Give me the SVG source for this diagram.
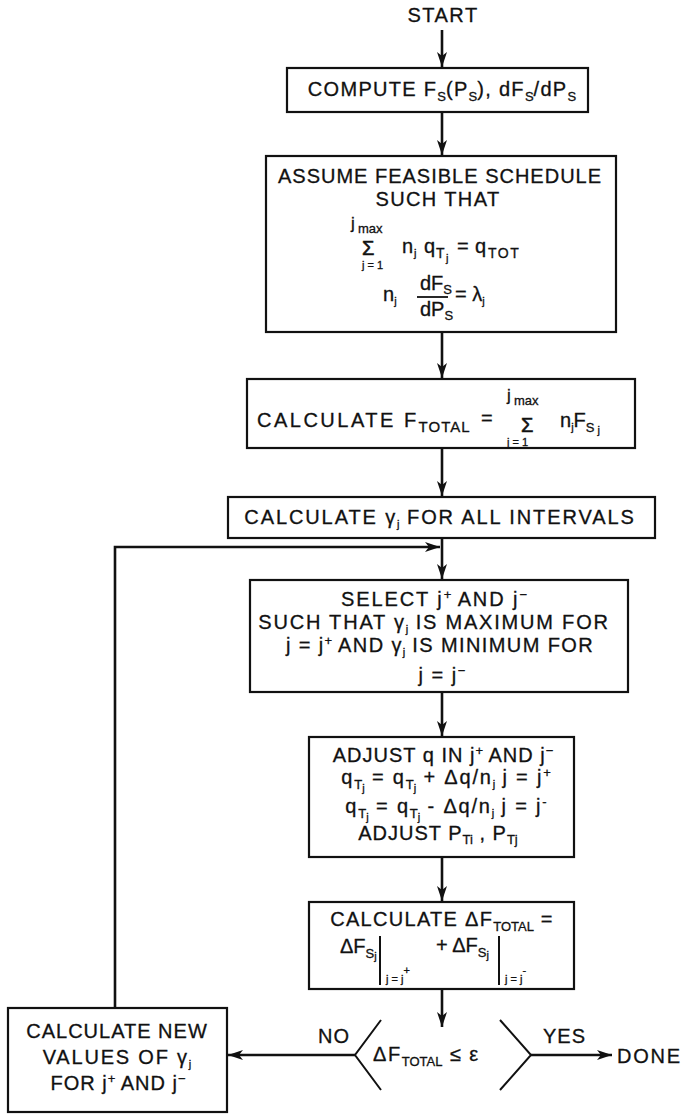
<svg xmlns="http://www.w3.org/2000/svg" width="687" height="1114" viewBox="0 0 687 1114">
<defs>
<style>
.t{font-family:"Liberation Sans",Arial,sans-serif;font-size:20px;fill:#111;stroke:#111;stroke-width:0.3;letter-spacing:1px}
.m{text-anchor:middle}
.f{letter-spacing:0}
.s{font-size:13px;letter-spacing:0}
.ss{font-size:11px;letter-spacing:0}
.sig{font-size:20px;letter-spacing:0;stroke-width:0.6}
.box{fill:#fff;stroke:#111;stroke-width:2.2}
.ln{fill:none;stroke:#111;stroke-width:2.6}
.bar{stroke:#111;stroke-width:2}
</style>
<marker id="ah" markerUnits="userSpaceOnUse" markerWidth="16" markerHeight="10" refX="15" refY="5" orient="auto">
<path d="M0,0 L15,5 L0,10 L4,5 Z" fill="#111"/>
</marker>
</defs>
<rect width="687" height="1114" fill="#fff"/>

<g id="connectors">
<line class="ln" x1="442" y1="30" x2="442" y2="67" marker-end="url(#ah)"/>
<line class="ln" x1="442" y1="112" x2="442" y2="155" marker-end="url(#ah)"/>
<line class="ln" x1="442" y1="332" x2="442" y2="378" marker-end="url(#ah)"/>
<line class="ln" x1="442" y1="448" x2="442" y2="496" marker-end="url(#ah)"/>
<line class="ln" x1="442" y1="538" x2="442" y2="579" marker-end="url(#ah)"/>
<path class="ln" d="M115,1008 V547 H440" marker-end="url(#ah)"/>
<line class="ln" x1="442" y1="692" x2="442" y2="736" marker-end="url(#ah)"/>
<line class="ln" x1="442" y1="857" x2="442" y2="901" marker-end="url(#ah)"/>
<line class="ln" x1="442" y1="989" x2="442" y2="1027" marker-end="url(#ah)"/>
<line class="ln" x1="355" y1="1055" x2="228" y2="1055" marker-end="url(#ah)"/>
<line class="ln" x1="531" y1="1055" x2="612" y2="1055" marker-end="url(#ah)"/>
<text class="t" x="318" y="1043">NO</text>
<text class="t" x="543" y="1043">YES</text>
</g>

<g id="start"><text class="t m" x="443" y="22" style="letter-spacing:1.5px">START</text></g>
<g id="done"><text class="t" x="617" y="1063" style="letter-spacing:1.8px">DONE</text></g>

<g id="compute">
<rect class="box" x="287" y="68" width="301" height="44"/>
<text class="t m" x="442" y="96" style="letter-spacing:1.3px">COMPUTE F<tspan class="s" dy="5">S</tspan><tspan dy="-5">(P</tspan><tspan class="s" dy="5">S</tspan><tspan dy="-5">), dF</tspan><tspan class="s" dy="5">S</tspan><tspan dy="-5">/dP</tspan><tspan class="s" dy="5">S</tspan></text>
</g>

<g id="assume">
<rect class="box" x="266" y="156" width="350" height="176"/>
<text class="t m" x="440" y="183">ASSUME FEASIBLE SCHEDULE</text>
<text class="t m" x="438" y="206" style="letter-spacing:1.4px">SUCH THAT</text>
<text class="t f" x="351" y="229" style="font-size:17px">j</text>
<text class="t s" x="358" y="233">max</text>
<text class="t sig" x="362" y="255">Σ</text>
<text class="t ss" x="362" y="269">j = 1</text>
<text class="t f" x="402" y="253">n</text>
<text class="t ss" x="414" y="257">j</text>
<text class="t f" x="424" y="253">q</text>
<text class="t s" x="436" y="258" style="font-size:14px">T</text>
<text class="t ss" x="446" y="262">j</text>
<text class="t f" x="457" y="253">=</text>
<text class="t f" x="475" y="253">q</text>
<text class="t s" x="488" y="258" style="font-size:14px;letter-spacing:1.5px">TOT</text>
<text class="t f" x="383" y="301">n<tspan class="ss" dy="4">j</tspan></text>
<text class="t f" x="420" y="290">dF<tspan class="s" dy="4">S</tspan></text>
<line x1="417" y1="297" x2="448" y2="297" stroke="#111" stroke-width="1.8"/>
<text class="t f" x="420" y="316">dP<tspan class="s" dy="4">S</tspan></text>
<text class="t f" x="455" y="301">= λ<tspan class="ss" dy="4">j</tspan></text>
</g>

<g id="ftotal">
<rect class="box" x="247" y="379" width="388" height="69"/>
<text class="t" x="257" y="427" style="letter-spacing:2.5px">CALCULATE F<tspan class="s" dy="5" style="font-size:15px;letter-spacing:1px">TOTAL</tspan></text>
<text class="t" x="481" y="425">=</text>
<text class="t f" x="507" y="401" style="font-size:17px">j</text>
<text class="t s" x="514" y="405">max</text>
<text class="t sig" x="521" y="432">Σ</text>
<text class="t ss" x="507" y="446">j = 1</text>
<text class="t f" x="560" y="427">n<tspan class="ss" dy="4">j</tspan><tspan dy="-4">F</tspan><tspan class="s" dy="5">S</tspan><tspan class="ss" dy="2"> j</tspan></text>
</g>

<g id="gamma">
<rect class="box" x="228" y="497" width="427" height="41"/>
<text class="t m" x="440" y="524" style="letter-spacing:1.9px">CALCULATE γ<tspan class="ss" dy="4">j</tspan><tspan dy="-4"> FOR ALL INTERVALS</tspan></text>
</g>

<g id="select">
<rect class="box" x="250" y="580" width="378" height="112"/>
<text class="t m" x="434" y="606" style="letter-spacing:1.9px">SELECT j<tspan class="s" dy="-7">+</tspan><tspan dy="7"> AND j</tspan><tspan class="s" dy="-7">−</tspan></text>
<text class="t m" x="434" y="629" style="letter-spacing:1.8px">SUCH THAT γ<tspan class="ss" dy="4">j</tspan><tspan dy="-4"> IS MAXIMUM FOR</tspan></text>
<text class="t m" x="440" y="652" style="letter-spacing:1.4px">j = j<tspan class="s" dy="-7">+</tspan><tspan dy="7"> AND γ</tspan><tspan class="ss" dy="4">j</tspan><tspan dy="-4"> IS MINIMUM FOR</tspan></text>
<text class="t m" x="442" y="682" style="letter-spacing:1.5px">j = j<tspan class="s" dy="-7">−</tspan></text>
</g>

<g id="adjust">
<rect class="box" x="309" y="737" width="265" height="120"/>
<text class="t m" x="443" y="762">ADJUST q IN j<tspan class="s" dy="-7">+</tspan><tspan dy="7"> AND j</tspan><tspan class="s" dy="-7">−</tspan></text>
<text class="t m" x="446" y="784" style="letter-spacing:1.8px">q<tspan class="s" dy="5">T</tspan><tspan class="ss" dy="3">j</tspan><tspan dy="-8"> = q</tspan><tspan class="s" dy="5">T</tspan><tspan class="ss" dy="3">j</tspan><tspan dy="-8"> + Δq/n</tspan><tspan class="ss" dy="4">j</tspan><tspan dy="-4"> j = j</tspan><tspan class="s" dy="-7">+</tspan></text>
<text class="t m" x="446" y="813" style="letter-spacing:1.8px">q<tspan class="s" dy="5">T</tspan><tspan class="ss" dy="3">j</tspan><tspan dy="-8"> = q</tspan><tspan class="s" dy="5">T</tspan><tspan class="ss" dy="3">j</tspan><tspan dy="-8"> - Δq/n</tspan><tspan class="ss" dy="4">j</tspan><tspan dy="-4"> j = j</tspan><tspan class="s" dy="-7">-</tspan></text>
<text class="t m" x="438" y="840">ADJUST P<tspan class="s" dy="4">Ti</tspan><tspan dy="-4"> , P</tspan><tspan class="s" dy="4">Tj</tspan></text>
</g>

<g id="deltaf">
<rect class="box" x="309" y="902" width="265" height="87"/>
<text class="t m" x="442" y="926" style="letter-spacing:1.3px">CALCULATE ΔF<tspan class="s" dy="5">TOTAL</tspan><tspan dy="-5"> =</tspan></text>
<text class="t f" x="340" y="953">ΔF<tspan class="s" dy="5">S</tspan><tspan class="ss" dy="2">j</tspan></text>
<line class="bar" x1="380" y1="936" x2="380" y2="985"/>
<text class="t ss" x="386" y="983">j = j<tspan dy="-9">+</tspan></text>
<text class="t f" x="436" y="952">+ ΔF<tspan class="s" dy="5">S</tspan><tspan class="ss" dy="2">j</tspan></text>
<line class="bar" x1="499" y1="936" x2="499" y2="985"/>
<text class="t ss" x="505" y="983">j = j<tspan dy="-9">-</tspan></text>
</g>

<g id="decision">
<path class="ln" d="M381,1020 L355,1055 L381,1090 M500,1020 L531,1055 L500,1090" style="stroke-width:2"/>
<text class="t" x="373" y="1061" style="letter-spacing:1.6px">ΔF<tspan class="s" dy="5">TOTAL</tspan><tspan dy="-5"> ≤ ε</tspan></text>
</g>

<g id="newvalues">
<rect class="box" x="8" y="1008" width="219" height="104"/>
<text class="t m" x="117" y="1038">CALCULATE NEW</text>
<text class="t m" x="117" y="1064" style="letter-spacing:1.8px">VALUES OF γ<tspan class="ss" dy="4">j</tspan></text>
<text class="t m" x="118" y="1090">FOR j<tspan class="s" dy="-7">+</tspan><tspan dy="7"> AND j</tspan><tspan class="s" dy="-7">−</tspan></text>
</g>
</svg>
